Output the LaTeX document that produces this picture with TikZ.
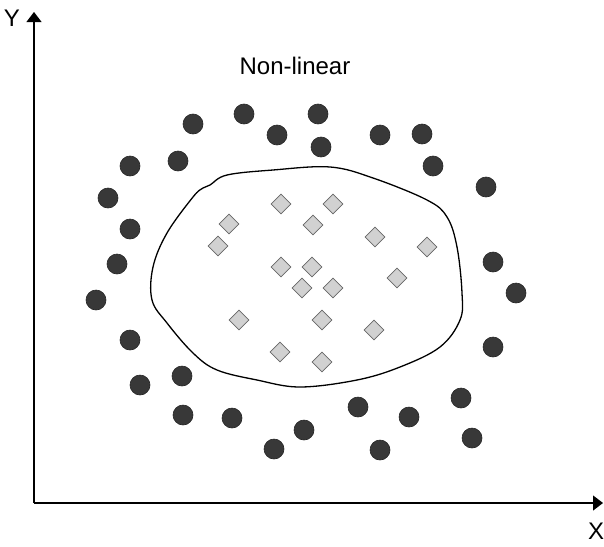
\documentclass[tikz,border=0pt]{standalone}
\usepackage{fontspec}
\setmainfont{Liberation Sans}
\usetikzlibrary{arrows.meta,shapes.geometric}
\begin{document}
\begin{tikzpicture}[x=1pt,y=-1pt,
  dot/.style={circle,fill=black!78,draw=black!85,line width=0.6pt,minimum size=20pt,inner sep=0pt},
  dia/.style={diamond,fill=black!18,draw=black!60,line width=0.6pt,minimum size=20pt,inner sep=0pt},
  axis/.style={line width=1.1pt,-{Triangle[length=10pt,width=15pt]}},
  lbl/.style={font=\fontsize{24}{24}\selectfont,inner sep=0pt}]
\useasboundingbox (0,0) rectangle (604,546);
\coordinate (O) at (34,503);
\coordinate (ytip) at (34,12);
\coordinate (xtip) at (603,503);
\draw[axis] (O) -- (ytip);
\draw[axis] (O) -- (xtip);
\node[lbl] (ylab) at (12,18) {Y};
\node[lbl] (xlab) at (596,531) {X};
\node[font=\fontsize{24}{24}\selectfont,inner sep=0pt] (title) at (295,66) {Non-linear};
% boundary
\draw[line width=1.3pt] plot[smooth cycle,tension=0.6] coordinates{
 (210,185) (227,175) (273,170) (330,167) (373,178) (427,200) (447,217)
 (457,247) (462,293) (460,320) (440,347) (400,367) (357,380) (300,387)
 (257,380) (217,370) (193,353) (167,323) (152,300) (153,267) (167,233)
 (193,197) (203,188)};
% dots
\foreach \x/\y [count=\i] in {193/124,244/114,318/114,277/135,321/147,380/135,422/134,
  130/166,178/161,433/166,108/198,486/187,130/229,117/264,493/262,96/300,516/293,
  130/340,493/347,182/376,140/385,183/415,232/418,358/407,409/417,461/398,
  304/430,274/449,380/450,472/438}
  \node[dot] (d\i) at (\x,\y) {};
% diamonds
\foreach \x/\y [count=\i] in {281/204,333/204,229/224,313/225,218/246,375/237,427/247,
  281/267,312/267,302/288,333/288,397/278,239/320,322/320,374/330,280/352,322/362}
  \node[dia] (s\i) at (\x,\y) {};
\end{tikzpicture}
\end{document}
